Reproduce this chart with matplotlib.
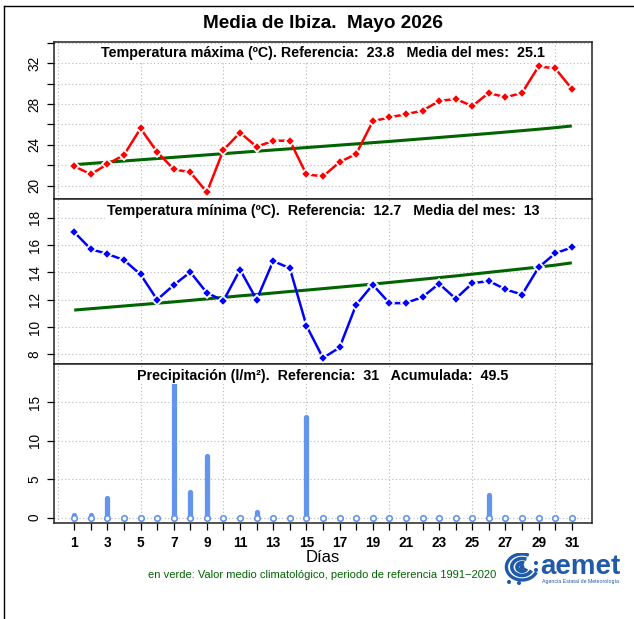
import matplotlib
matplotlib.use("Agg")
import matplotlib.pyplot as plt
from matplotlib.lines import Line2D
from matplotlib.patches import Arc, Circle
import numpy as np

# ---------------- data ----------------
days = list(range(1, 32))
tmax = [21.9, 21.1, 22.1, 23.0, 25.6, 23.3, 21.6, 21.3, 19.35, 23.5,
        25.2, 23.8, 24.4, 24.4, 21.1, 20.9, 22.3, 23.1, 26.3, 26.7,
        27.0, 27.35, 28.3, 28.5, 27.8, 29.1, 28.65, 29.1, 31.7, 31.5, 29.5]
tmax_clim = [22.05, 22.17, 22.29, 22.41, 22.53, 22.65, 22.77, 22.89, 23.01, 23.13,
             23.25, 23.37, 23.49, 23.61, 23.73, 23.85, 23.97, 24.09, 24.21, 24.33,
             24.46, 24.59, 24.72, 24.85, 24.98, 25.11, 25.25, 25.39, 25.53, 25.68, 25.85]
tmin = [16.95, 15.7, 15.35, 14.9, 13.85, 12.0, 13.07, 14.02, 12.5, 11.93,
        14.2, 12.0, 14.83, 14.3, 10.1, 7.73, 8.5, 11.63, 13.1, 11.75,
        11.75, 12.2, 13.17, 12.07, 13.2, 13.37, 12.76, 12.37, 14.37, 15.39, 15.83]
tmin_clim = [11.24, 11.34, 11.44, 11.54, 11.64, 11.74, 11.84, 11.95, 12.06, 12.17,
             12.28, 12.38, 12.49, 12.60, 12.70, 12.81, 12.92, 13.03, 13.14, 13.26,
             13.38, 13.50, 13.62, 13.74, 13.87, 14.00, 14.13, 14.26, 14.39, 14.53, 14.70]
precip = [0.4, 0.3, 2.6, 0, 0, 0, 18.1, 3.3, 8.0, 0,
          0, 0.7, 0, 0, 13.1, 0, 0, 0, 0, 0,
          0, 0, 0, 0, 0, 3.0, 0, 0, 0, 0, 0]

tmax_yticks = [20, 22, 24, 26, 28, 30, 32, 34]
tmax_ylabels = ["20", "", "24", "", "28", "", "32", ""]
tmin_yticks = [8, 10, 12, 14, 16, 18]
tmin_ylabels = ["8", "10", "12", "14", "16", "18"]
prec_yticks = [0, 5, 10, 15]
prec_ylabels = ["0", "5", "10", "15"]
xlabels = [str(d) if d % 2 == 1 else "" for d in days]

title = "Media de Ibiza.  Mayo 2026"
tmax_title = "Temperatura máxima (ºC). Referencia:  23.8   Media del mes:  25.1"
tmin_title = "Temperatura mínima (ºC).  Referencia:  12.7   Media del mes:  13"
prec_title = "Precipitación (l/m²).  Referencia:  31   Acumulada:  49.5"
xlabel = "Días"
note = "en verde: Valor medio climatológico, periodo de referencia 1991\u22122020"

plt.rcParams['font.family'] = ['Liberation Sans', 'DejaVu Sans']

W, H = 634, 619
fig = plt.figure(figsize=(W / 100, H / 100), dpi=100)
fig.patch.set_facecolor('white')


def rect(l, t, r, b):
    return [l / W, 1 - b / H, (r - l) / W, (b - t) / H]


L, R = 54.3, 591.7
ax1 = fig.add_axes(rect(L, 41.7, R, 199.3))
ax2 = fig.add_axes(rect(L, 199.3, R, 364.3))
ax3 = fig.add_axes(rect(L, 364.3, R, 523.3))

GRID = dict(color='#B8B8B8', lw=0.8, ls=(0, (1, 2.2)), zorder=0.5)
GREEN = '#006400'


def style(ax, ylim, yticks, ylabels, title_txt, height_px):
    ax.set_xlim(-0.2, 32.2)
    ax.set_ylim(*ylim)
    for x in range(0, 31, 5):
        ax.axvline(x, **GRID)
    for y in yticks:
        ax.axhline(y, **GRID)
    ax.set_yticks(yticks)
    ax.set_yticklabels(ylabels)
    for lab in ax.get_yticklabels():
        lab.set_rotation(90)
        lab.set_va('center')
    ax.tick_params(axis='y', length=5, width=0.9, pad=4, labelsize=9.8)
    for s in ax.spines.values():
        s.set_linewidth(1.1)
        s.set_color('#222222')
    ax.text(0.5, 1 - 11.5 / height_px, title_txt, transform=ax.transAxes,
            ha='center', va='center', fontsize=10.3, fontweight='bold', zorder=6,
            bbox=dict(boxstyle='square,pad=0.1', fc='white', ec='none'))


# --- maximum temperature ---
ax1.plot(days, tmax_clim, color=GREEN, lw=2.2, zorder=2, solid_capstyle='butt')
ax1.plot(days, tmax, color='#FF0000', lw=1.8, marker='D', ms=4.8,
         mfc='#FF0000', mec='white', mew=1.3, zorder=3)
style(ax1, (18.65, 34.12), tmax_yticks, tmax_ylabels, tmax_title, 157.6)
ax1.set_xticks([])

# --- minimum temperature ---
ax2.plot(days, tmin_clim, color=GREEN, lw=2.2, zorder=2, solid_capstyle='butt')
ax2.plot(days, tmin, color='#0000FF', lw=1.8, marker='D', ms=4.8,
         mfc='#0000FF', mec='white', mew=1.3, zorder=3)
style(ax2, (7.27, 19.35), tmin_yticks, tmin_ylabels, tmin_title, 165.0)
ax2.set_xticks([])

# --- precipitation ---
p = np.array(precip)
d = np.array(days)
mask = p > 0
vl = ax3.vlines(d[mask], 0, p[mask], colors='#6495ED', lw=3.8, zorder=2)
vl.set_capstyle('round')
ax3.plot(d, np.zeros_like(p), ls='none', marker='o', ms=4.0, mfc='white',
         mec='#6495ED', mew=1.2, zorder=3)
style(ax3, (-0.73, 19.94), prec_yticks, prec_ylabels, prec_title, 159.0)
ax3.set_xticks(days)
ax3.set_xticklabels(xlabels, fontweight='bold', fontsize=9.8)
ax3.tick_params(axis='x', length=5, width=0.9, pad=4)

# --- figure texts ---
fig.text(323 / W, 1 - 24 / H, title, ha='center', va='center',
         fontsize=13.7, fontweight='bold')
fig.text(323 / W, 1 - 558 / H, xlabel, ha='center', va='center', fontsize=12)
fig.text(322.5 / W, 1 - 574.5 / H, note, ha='center', va='center',
         fontsize=8, color=GREEN)

# frame lines of the figure
fig.add_artist(Line2D([4.3 / W, 4.3 / W], [0, 1 - 6 / H], color='black', lw=1.0))
fig.add_artist(Line2D([4.3 / W, 1.0], [1 - 6 / H, 1 - 6 / H], color='black', lw=1.0))

# --- AEMET logo (approximation) ---
BLUE = '#1F5BA8'
fig.text(540 / W, 1 - 574 / H, "aemet", ha='left', va='baseline',
         fontsize=20, fontweight='bold', color=BLUE)
fig.text(542 / W, 1 - 581 / H, "Agencia Estatal de Meteorología", ha='left',
         va='center', fontsize=3.8, color=BLUE)
lax = fig.add_axes(rect(503, 553, 541, 585))
lax.set_xlim(0, 38)
lax.set_ylim(32, 0)
lax.axis('off')
for r_, w_ in [(4, 3.0), (8.5, 2.6), (13, 2.4)]:
    lax.add_patch(Arc((19, 14), 2 * r_ * 1.2, 2 * r_, theta1=20, theta2=300,
                      color=BLUE, lw=w_))
lax.add_patch(Circle((19, 14), 1.8, color=BLUE))
for (cx, cy) in [(33, 10), (33, 17), (6, 29), (16, 30)]:
    lax.add_patch(Circle((cx, cy), 1.3, color=BLUE))

fig.savefig("out.png", dpi=100, facecolor='white')
